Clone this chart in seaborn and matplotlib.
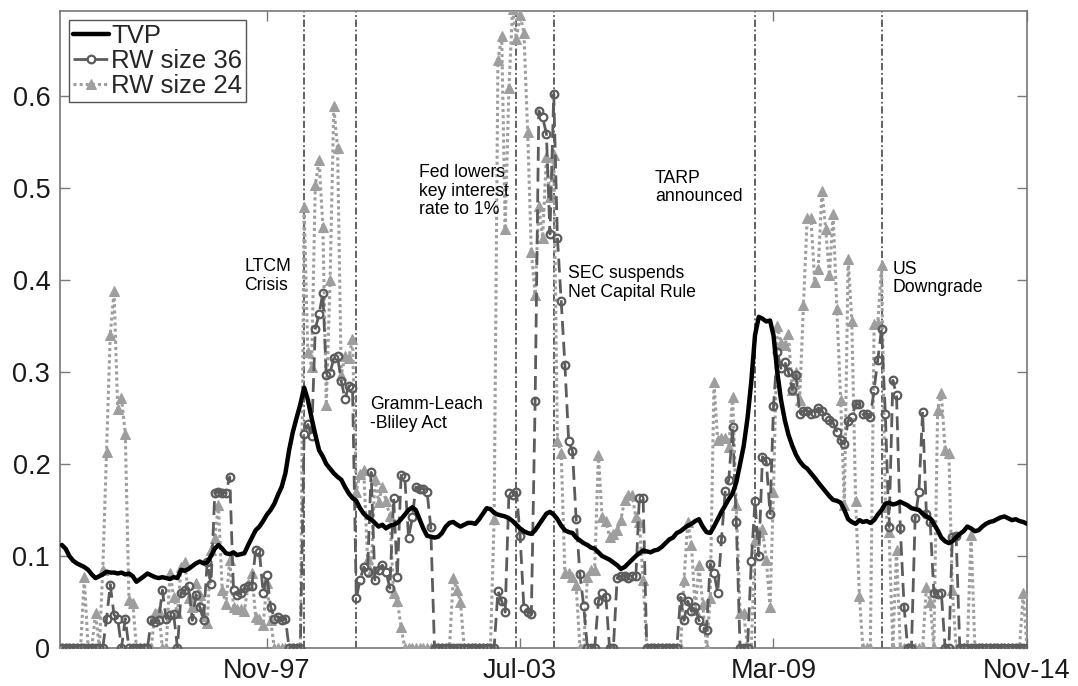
import matplotlib

matplotlib.use("Agg")
import matplotlib.pyplot as plt
import pandas as pd
import seaborn as sns

# monthly observations, Apr-1993 .. Nov-2014
months = pd.date_range("1993-04-01", "2014-11-01", freq="MS")

tvp = [
    0.112, 0.108, 0.100, 0.095, 0.092, 0.090, 0.088, 0.085, 0.080, 0.076,
    0.078, 0.080, 0.083, 0.082, 0.082, 0.081, 0.082, 0.080, 0.081, 0.078,
    0.072, 0.075, 0.078, 0.081, 0.079, 0.077, 0.076, 0.077, 0.076, 0.075,
    0.077, 0.076, 0.085, 0.084, 0.086, 0.089, 0.092, 0.094, 0.092, 0.093,
    0.100, 0.108, 0.112, 0.108, 0.103, 0.102, 0.104, 0.101, 0.102, 0.103,
    0.112, 0.120, 0.128, 0.132, 0.138, 0.145, 0.150, 0.157, 0.167, 0.175,
    0.190, 0.215, 0.235, 0.250, 0.265, 0.283, 0.270, 0.250, 0.232, 0.215,
    0.208, 0.200, 0.195, 0.190, 0.186, 0.183, 0.175, 0.168, 0.163, 0.160,
    0.152, 0.146, 0.142, 0.140, 0.136, 0.132, 0.134, 0.130, 0.133, 0.134,
    0.136, 0.140, 0.145, 0.150, 0.153, 0.150, 0.140, 0.130, 0.122, 0.121,
    0.120, 0.121, 0.125, 0.132, 0.136, 0.137, 0.134, 0.132, 0.134, 0.136,
    0.136, 0.135, 0.140, 0.146, 0.152, 0.151, 0.147, 0.145, 0.144, 0.143,
    0.141, 0.138, 0.134, 0.130, 0.127, 0.125, 0.124, 0.128, 0.134, 0.140,
    0.146, 0.148, 0.145, 0.140, 0.133, 0.128, 0.126, 0.125, 0.120, 0.117,
    0.114, 0.112, 0.109, 0.108, 0.104, 0.100, 0.098, 0.096, 0.093, 0.090,
    0.086, 0.088, 0.092, 0.096, 0.100, 0.103, 0.106, 0.105, 0.104, 0.106,
    0.107, 0.110, 0.114, 0.118, 0.120, 0.125, 0.127, 0.130, 0.133, 0.135,
    0.138, 0.140, 0.132, 0.126, 0.125, 0.132, 0.140, 0.148, 0.155, 0.162,
    0.168, 0.180, 0.200, 0.220, 0.250, 0.290, 0.340, 0.360, 0.358, 0.355,
    0.356, 0.340, 0.300, 0.270, 0.248, 0.232, 0.220, 0.210, 0.203, 0.198,
    0.195, 0.190, 0.185, 0.180, 0.175, 0.170, 0.165, 0.161, 0.160, 0.158,
    0.150, 0.140, 0.137, 0.135, 0.139, 0.137, 0.138, 0.136, 0.139, 0.145,
    0.150, 0.157, 0.158, 0.156, 0.157, 0.159, 0.157, 0.155, 0.152, 0.151,
    0.150, 0.146, 0.143, 0.141, 0.135, 0.128, 0.120, 0.116, 0.114, 0.116,
    0.120, 0.124, 0.127, 0.132, 0.130, 0.127, 0.128, 0.132, 0.135, 0.137,
    0.138, 0.140, 0.142, 0.143, 0.141, 0.139, 0.140, 0.138, 0.137, 0.135,
]

rw36 = [
    0, 0, 0, 0, 0, 0, 0, 0, 0, 0,
    0, 0, 0.032, 0.069, 0.036, 0.032, 0, 0.032, 0, 0,
    0, 0, 0, 0, 0.030, 0.028, 0.030, 0.063, 0.032, 0.036,
    0.037, 0, 0.060, 0.063, 0.067, 0.030, 0.058, 0.045, 0.030, 0.093,
    0.070, 0.168, 0.170, 0.168, 0.169, 0.186, 0.063, 0.058, 0.060, 0.065,
    0.067, 0.067, 0.107, 0.104, 0.060, 0.079, 0.045, 0.032, 0.034, 0.030,
    0.032, 0, 0, 0, 0, 0.233, 0.243, 0.230, 0.347, 0.363,
    0.386, 0.297, 0.299, 0.315, 0.317, 0.290, 0.271, 0.285, 0.283, 0.054,
    0.074, 0.088, 0.083, 0.191, 0.074, 0.085, 0.090, 0.083, 0.065, 0.163,
    0.077, 0.188, 0.186, 0.120, 0.142, 0.175, 0.173, 0.173, 0.170, 0.132,
    0, 0, 0, 0, 0, 0, 0, 0, 0, 0,
    0, 0, 0, 0, 0, 0, 0, 0.062, 0.051, 0.039,
    0.168, 0.166, 0.170, 0.122, 0.044, 0.039, 0.037, 0.269, 0.584, 0.577,
    0.559, 0.450, 0.602, 0.446, 0.377, 0.308, 0.225, 0.214, 0.140, 0.080,
    0.046, 0, 0, 0, 0.051, 0.060, 0.055, 0, 0, 0.076,
    0.078, 0.078, 0.076, 0.078, 0.078, 0.163, 0.163, 0, 0, 0,
    0, 0, 0, 0, 0, 0, 0.055, 0.030, 0.051, 0.040,
    0.045, 0.030, 0.022, 0.020, 0.091, 0.082, 0.060, 0.118, 0.171, 0.183,
    0.240, 0.137, 0, 0, 0, 0.095, 0.160, 0.100, 0.208, 0.203,
    0.146, 0.263, 0.322, 0.304, 0.311, 0.300, 0.281, 0.297, 0.254, 0.258,
    0.258, 0.254, 0.256, 0.261, 0.258, 0.251, 0.248, 0.245, 0.235, 0.226,
    0.222, 0.247, 0.251, 0.265, 0.265, 0.254, 0.254, 0.251, 0.281, 0.313,
    0.347, 0.254, 0.132, 0.291, 0.275, 0.130, 0.045, 0, 0, 0.141,
    0.170, 0.257, 0.146, 0.137, 0.060, 0.059, 0.060, 0, 0, 0.121,
    0.122, 0, 0, 0, 0, 0, 0, 0, 0, 0,
    0, 0, 0, 0, 0, 0, 0, 0, 0, 0,
]

rw24 = [
    0, 0, 0, 0, 0, 0, 0.077, 0, 0, 0.038,
    0, 0.085, 0.213, 0.340, 0.388, 0.260, 0.272, 0.233, 0.052, 0.049,
    0, 0, 0, 0, 0, 0.038, 0.040, 0, 0, 0.082,
    0.055, 0.038, 0.088, 0.093, 0.054, 0.045, 0.071, 0.058, 0.035, 0.027,
    0.107, 0.120, 0.155, 0.063, 0.048, 0.096, 0.045, 0.042, 0.042, 0.040,
    0.070, 0.081, 0.034, 0.031, 0.025, 0.071, 0.030, 0, 0, 0,
    0, 0, 0, 0, 0, 0.479, 0.322, 0.306, 0.503, 0.530,
    0.458, 0.264, 0.400, 0.589, 0.543, 0.297, 0.317, 0.315, 0.336, 0.170,
    0.189, 0.193, 0.097, 0.083, 0.184, 0.159, 0.175, 0.160, 0.143, 0.060,
    0.051, 0.023, 0, 0, 0, 0, 0, 0, 0, 0,
    0, 0, 0, 0, 0, 0.076, 0.063, 0.050, 0, 0,
    0, 0, 0, 0, 0, 0, 0.140, 0.639, 0.665, 0.455,
    0.609, 0.695, 0.662, 0.688, 0.669, 0.561, 0.430, 0.384, 0.481, 0.446,
    0.534, 0.490, 0.536, 0.225, 0.212, 0.081, 0.081, 0.077, 0.068, 0,
    0, 0.077, 0.085, 0.085, 0.210, 0.142, 0.138, 0.121, 0.124, 0.128,
    0.139, 0.161, 0.166, 0.166, 0.142, 0.137, 0.074, 0, 0, 0,
    0, 0, 0, 0, 0, 0, 0, 0.074, 0.137, 0.112,
    0.041, 0.090, 0.048, 0, 0.054, 0.289, 0.226, 0.228, 0.228, 0.219,
    0.273, 0.155, 0.038, 0.038, 0, 0, 0.117, 0.126, 0.129, 0.096,
    0.045, 0.170, 0.350, 0.332, 0.329, 0.341, 0.281, 0.300, 0.270, 0.373,
    0.467, 0.467, 0.398, 0.412, 0.497, 0.456, 0.405, 0.472, 0.368, 0.270,
    0.155, 0.423, 0.355, 0.160, 0.056, 0, 0, 0, 0.352, 0.353,
    0.416, 0.153, 0.126, 0, 0.107, 0, 0, 0, 0, 0,
    0, 0, 0.066, 0.050, 0, 0.259, 0.277, 0.215, 0.212, 0.063,
    0, 0, 0, 0, 0.123, 0, 0, 0, 0, 0,
    0, 0, 0, 0, 0, 0, 0, 0, 0.060, 0,
]

tick_dates = ["1997-11-01", "2003-07-01", "2009-03-01", "2014-11-01"]
tick_labels = ["Nov-97", "Jul-03", "Mar-09", "Nov-14"]

event_dates = ["1998-09-01", "1999-11-01", "2003-06-01",
               "2004-04-01", "2008-10-01", "2011-08-01"]
event_labels = ["LTCM\nCrisis", "Gramm-Leach\n-Bliley Act",
                "Fed lowers\nkey interest\nrate to 1%",
                "SEC suspends\nNet Capital Rule", "TARP\nannounced",
                "US\nDowngrade"]
# label placement: (height, offset in px from the event line)
event_text_pos = [(0.424, -60), (0.274, 14), (0.526, -97),
                  (0.416, 14), (0.520, -100), (0.421, 11)]

df = pd.DataFrame({"date": months, "TVP": tvp, "RW36": rw36, "RW24": rw24})

sns.set_style("ticks")
plt.rcParams["font.family"] = ["Liberation Sans", "DejaVu Sans"]
plt.rcParams["xtick.direction"] = "in"
plt.rcParams["ytick.direction"] = "in"

fig = plt.figure(figsize=(10.78, 6.86), dpi=100)
ax = fig.add_axes([0.0557, 0.0554, 0.897, 0.9286])

sns.lineplot(data=df, x="date", y="TVP", ax=ax, color="black", lw=3.2,
             label="TVP", zorder=5)
sns.lineplot(data=df, x="date", y="RW36", ax=ax, color="#5c5c5c", lw=2,
             linestyle=(0, (5, 2.5)), marker="o", markersize=5.5,
             markerfacecolor="none", markeredgecolor="#5c5c5c",
             markeredgewidth=1.6, label="RW size 36", zorder=4)
sns.lineplot(data=df, x="date", y="RW24", ax=ax, color="#9e9e9e", lw=2.2,
             linestyle=(0, (1, 1)), marker="^", markersize=7.5,
             markerfacecolor="#9e9e9e", markeredgecolor="#9e9e9e",
             label="RW size 24", zorder=3)

for d, lab, (yv, dx) in zip(event_dates, event_labels, event_text_pos):
    ax.axvline(pd.Timestamp(d), color="#555555", lw=1.3,
               linestyle=(0, (4, 1.5, 1, 1.5)), zorder=2)
    ax.annotate(lab, xy=(pd.Timestamp(d), yv), xytext=(dx, 0),
                textcoords="offset pixels", ha="left", va="top",
                multialignment="left", fontsize=12.7, color="black",
                linespacing=1.12)

ax.set_xlim(pd.Timestamp("1993-03-17"), pd.Timestamp("2014-11-01"))
ax.set_ylim(0, 0.6925)
ax.set_xticks(pd.to_datetime(tick_dates))
ax.set_xticklabels(tick_labels)
ax.set_yticks([0, 0.1, 0.2, 0.3, 0.4, 0.5, 0.6])
ax.set_yticklabels(["0", "0.1", "0.2", "0.3", "0.4", "0.5", "0.6"])
ax.tick_params(axis="both", labelsize=19.5, length=7, width=1,
               color="#777777", labelcolor="#1a1a1a", top=True, right=True,
               pad=7)
ax.set_xlabel("")
ax.set_ylabel("")
for sp in ax.spines.values():
    sp.set_visible(True)
    sp.set_color("#777777")
    sp.set_linewidth(1.2)

leg = ax.legend(loc="upper left", fontsize=18.5, handlelength=1.4,
                handletextpad=0.1, labelspacing=0.05, borderpad=0.15,
                borderaxespad=0.35, fancybox=False, framealpha=1,
                edgecolor="#555555")
leg.get_frame().set_linewidth(1)

fig.savefig("out.png", dpi=100)
plt.close(fig)
